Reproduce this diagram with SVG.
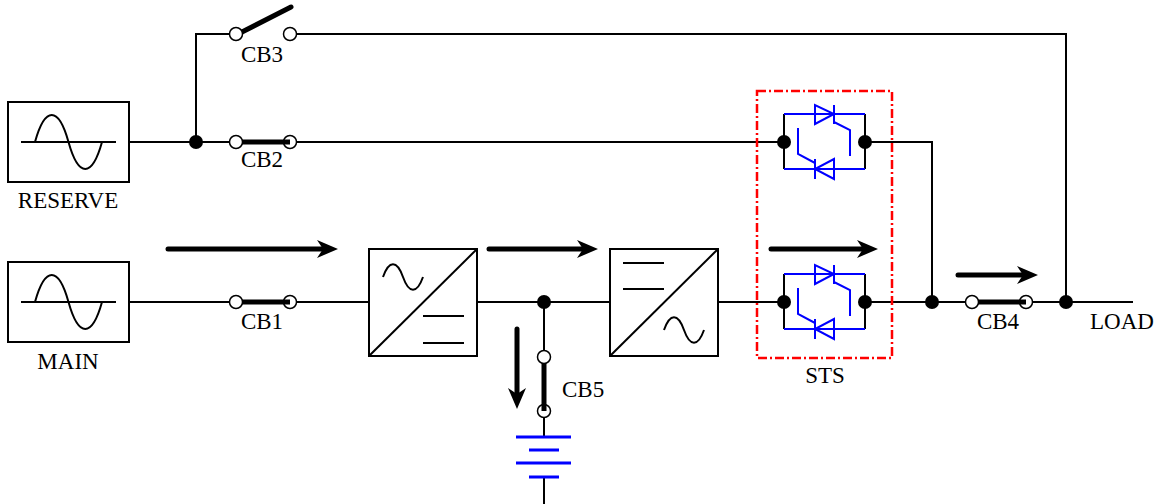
<svg xmlns="http://www.w3.org/2000/svg" width="1161" height="504" viewBox="0 0 1161 504">
<style>
.w{stroke:#000;stroke-width:2;fill:none}
.bar{stroke:#000;stroke-width:5;fill:none}
.arr{stroke:#000;stroke-width:5;fill:none;stroke-linecap:round}
.oc{stroke:#000;stroke-width:1.5;fill:#fff}
.on{stroke:#000;stroke-width:1.5;fill:none}
.dot{fill:#000}
.b{stroke:#0000FF;stroke-width:2;fill:none}
.bat{stroke:#0000FF;stroke-width:3.2;fill:none}
.t{font-family:"Liberation Serif","Times New Roman",serif;font-size:23px;fill:#000}
.m{text-anchor:middle}
</style>
<defs>
<path id="head" d="M0,0 L-21,-9 L-15,0 L-21,9 Z" fill="#000"/>
<g id="thy">
<path class="w" d="M784,-28 V27 M865,-28 V27"/>
<path class="b" d="M784,-28 H865 M784,27 H865"/>
<path class="b" d="M815,-37 V-18 L834,-28 Z M834,-37 V-18 M834,-20 L850,-12 V14"/>
<path class="b" d="M834,17 V37 L815,27 Z M815,17 V37 M798,-14 V12 L815,21"/>
<circle class="dot" cx="784" cy="0" r="7"/>
<circle class="dot" cx="865" cy="0" r="7"/>
</g>
</defs>

<g id="connectors">
<path class="w" d="M129,142 H229.5 M196,142 V34 H229.5"/>
<path class="w" d="M296.5,142 H784"/>
<path class="w" d="M296.5,34 H1066 V302"/>
<path class="w" d="M865,142 H932 V302"/>
<path class="w" d="M129,302 H229.5 M296.5,302 H369 M477,302 H610 M718,302 H784 M865,302 H965.5 M1032.5,302 H1133"/>
<path class="w" d="M544,302 V350.5 M544,417.5 V437 M544,477 V504"/>
<circle class="dot" cx="196" cy="142" r="7"/>
<circle class="dot" cx="544" cy="302" r="7"/>
<circle class="dot" cx="932" cy="302" r="7"/>
<circle class="dot" cx="1066" cy="302" r="7"/>
</g>

<g id="reserve">
<rect class="w" x="8" y="102" width="121" height="80"/>
<path class="w" d="M21,142 H116"/>
<path class="w" d="M35,142 C45,106 58.5,106 68.5,142 C78.5,178 92,178 102,142"/>
<text class="t m" x="68" y="208">RESERVE</text>
</g>

<g id="main">
<rect class="w" x="8" y="262" width="121" height="80"/>
<path class="w" d="M21,302 H116"/>
<path class="w" d="M35,302 C45,266 58.5,266 68.5,302 C78.5,338 92,338 102,302"/>
<text class="t m" x="68" y="369">MAIN</text>
</g>

<g id="cb3">
<path class="bar" d="M242,32 L291,7" style="stroke-linecap:round"/>
<circle class="oc" cx="236" cy="34" r="6.5"/>
<circle class="oc" cx="290" cy="34" r="6.5"/>
<text class="t m" x="262" y="62">CB3</text>
</g>

<g id="cb2">
<circle class="oc" cx="236" cy="142" r="6.5"/>
<path class="bar" d="M242,142 H290"/>
<circle class="on" cx="290" cy="142" r="6.5"/>
<text class="t m" x="262" y="167">CB2</text>
</g>

<g id="cb1">
<circle class="oc" cx="236" cy="302" r="6.5"/>
<path class="bar" d="M242,302 H290"/>
<circle class="on" cx="290" cy="302" r="6.5"/>
<text class="t m" x="262" y="329">CB1</text>
</g>

<g id="rectifier">
<rect class="w" x="369" y="249" width="108" height="107"/>
<path class="w" d="M369,356 L477,249"/>
<path class="w" d="M383,277 C389,260 397,260 403,277 C409,294 417,294 423,277"/>
<path class="w" d="M423,316 H464 M423,343 H464"/>
</g>

<g id="inverter">
<rect class="w" x="610" y="249" width="108" height="107"/>
<path class="w" d="M610,356 L718,249"/>
<path class="w" d="M623,263 H664 M623,289 H664"/>
<path class="w" d="M664,330 C670,313 678,313 684,330 C690,347 698,347 704,330"/>
</g>

<g id="cb5">
<circle class="oc" cx="544" cy="357" r="6.5"/>
<path class="bar" d="M544,363 V411"/>
<circle class="on" cx="544" cy="411" r="6.5"/>
<text class="t" x="562" y="397">CB5</text>
</g>

<g id="battery">
<path class="bat" d="M516,437 H571 M529,450 H559 M516,463 H571 M529,477 H559"/>
</g>

<g id="sts">
<rect x="757" y="91" width="135" height="267" fill="none" stroke="#FF0000" stroke-width="2.5" stroke-dasharray="9 3 2 3"/>
<use href="#thy" transform="translate(0,142)"/>
<use href="#thy" transform="translate(0,302)"/>
<text class="t m" x="825" y="383">STS</text>
</g>

<g id="cb4">
<circle class="oc" cx="972" cy="302" r="6.5"/>
<path class="bar" d="M978,302 H1026"/>
<circle class="on" cx="1026" cy="302" r="6.5"/>
<text class="t m" x="998" y="329">CB4</text>
</g>

<g id="load">
<text class="t" x="1090" y="329">LOAD</text>
</g>

<g id="arrows">
<path class="arr" d="M168,249 H322"/>
<use href="#head" transform="translate(338,249)"/>
<path class="arr" d="M489,249 H582"/>
<use href="#head" transform="translate(598,249)"/>
<path class="arr" d="M771,249 H862"/>
<use href="#head" transform="translate(878,249)"/>
<path class="arr" d="M958,275 H1022"/>
<use href="#head" transform="translate(1038,275)"/>
<path class="arr" d="M517,329 V393"/>
<use href="#head" transform="translate(517,409) rotate(90)"/>
</g>
</svg>
